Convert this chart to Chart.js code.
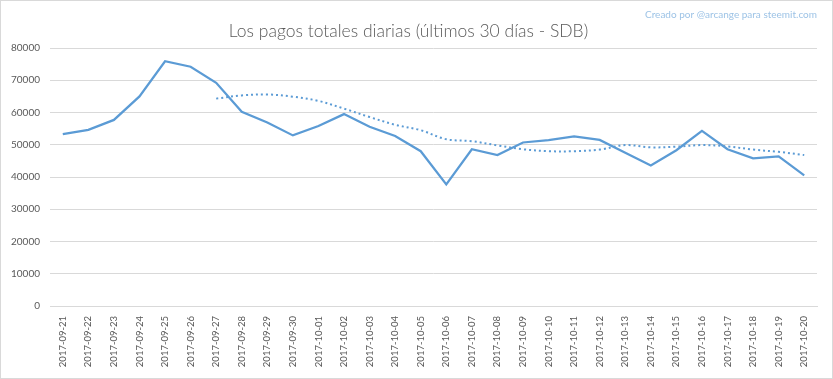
<!DOCTYPE html>
<html>
<head>
<meta charset="utf-8">
<script src="https://cdn.jsdelivr.net/npm/chart.js@4/dist/chart.umd.min.js"></script>
<style>
html,body{margin:0;padding:0;background:#fff;}
canvas{display:block;}
</style>
</head>
<body>
<canvas id="c" width="833" height="379"></canvas>
<script>
const categories = ["2017-09-21","2017-09-22","2017-09-23","2017-09-24","2017-09-25","2017-09-26","2017-09-27","2017-09-28","2017-09-29","2017-09-30","2017-10-01","2017-10-02","2017-10-03","2017-10-04","2017-10-05","2017-10-06","2017-10-07","2017-10-08","2017-10-09","2017-10-10","2017-10-11","2017-10-12","2017-10-13","2017-10-14","2017-10-15","2017-10-16","2017-10-17","2017-10-18","2017-10-19","2017-10-20"];
const dailyPayouts = [53300,54600,57700,65000,75900,74200,69200,60200,56900,52900,55800,59500,55600,52700,48000,37700,48600,46800,50700,51400,52600,51500,47500,43600,48300,54300,48600,45800,46400,40500];
const trendValues = [null,null,null,null,null,null,64300,65300,65600,64900,63600,61200,58600,56200,54500,51700,51100,49800,48600,48000,48000,48500,49900,49200,49400,49900,49500,48500,47800,46800];
const yTicks = [0,10000,20000,30000,40000,50000,60000,70000,80000];
const titleText = "Los pagos totales diarias (últimos 30 días - SDB)";
const creditText = "Creado por @arcange para steemit.com";

const borderPlugin = {
  id: 'outerBorder',
  beforeDraw(chart) {
    const ctx = chart.ctx;
    ctx.save();
    ctx.fillStyle = '#ffffff';
    ctx.fillRect(0, 0, chart.width, chart.height);
    ctx.strokeStyle = '#d9d9d9';
    ctx.lineWidth = 1;
    ctx.strokeRect(0.5, 0.5, chart.width - 1, chart.height - 1);
    ctx.restore();
  }
};

new Chart(document.getElementById('c'), {
  type: 'line',
  data: {
    labels: categories,
    datasets: [
      {
        label: 'Pagos',
        data: dailyPayouts,
        borderColor: '#5b9bd5',
        borderWidth: 2.25,
        pointRadius: 0,
        tension: 0,
        fill: false
      },
      {
        label: 'Tendencia',
        data: trendValues,
        borderColor: '#5b9bd5',
        borderWidth: 2,
        borderDash: [2, 3],
        pointRadius: 0,
        tension: 0.35,
        fill: false,
        spanGaps: false
      }
    ]
  },
  plugins: [borderPlugin],
  options: {
    responsive: false,
    animation: false,
    devicePixelRatio: 1,
    layout: { padding: { left: 0, right: 16, top: 0, bottom: 8 } },
    plugins: {
      legend: { display: false },
      tooltip: { enabled: false },
      title: {
        display: true,
        text: creditText,
        align: 'end',
        color: '#9dc3e6',
        font: { family: 'Lato', size: 10, weight: 'normal' },
        padding: { top: 9, bottom: 0 }
      },
      subtitle: {
        display: true,
        text: titleText,
        align: 'center',
        color: '#595959',
        font: { family: 'Lato', size: 17.5, weight: 300 },
        padding: { top: 0, bottom: 6 }
      }
    },
    scales: {
      x: {
        offset: true,
        grid: { display: false },
        border: { display: true, color: '#d9d9d9', width: 1 },
        ticks: {
          color: '#595959',
          font: { family: 'Lato', size: 9.5 },
          minRotation: 90,
          maxRotation: 90,
          autoSkip: false,
          padding: 2
        },
        afterFit(scale) { scale.height = 65; }
      },
      y: {
        min: 0,
        max: 80000,
        afterBuildTicks(scale) { scale.ticks = yTicks.map(v => ({ value: v })); },
        grid: { color: '#d9d9d9', lineWidth: 1, drawTicks: false },
        border: { display: false },
        ticks: {
          color: '#595959',
          font: { family: 'Lato', size: 10 },
          padding: 10,
          callback: (v) => String(v)
        },
        afterFit(scale) { scale.width = 50; }
      }
    }
  }
});
</script>
</body>
</html>
